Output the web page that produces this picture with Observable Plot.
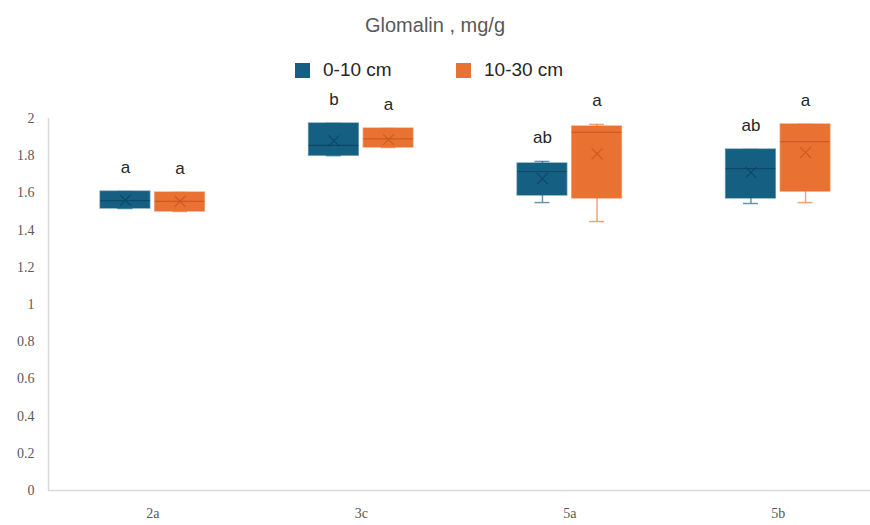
<!DOCTYPE html>
<html>
<head>
<meta charset="utf-8">
<script src="https://cdn.jsdelivr.net/npm/d3@7"></script>
<script src="https://cdn.jsdelivr.net/npm/@observablehq/plot@0.6"></script>
<style>
  html, body { margin: 0; padding: 0; background: #fff; width: 870px; height: 525px; overflow: hidden; }
  #wrap { position: relative; width: 870px; height: 525px; font-family: "Liberation Sans", Arial, sans-serif; }
  #title { position: absolute; left: 0; width: 870px; top: 14px; text-align: center; font-size: 20px; color: #595959; }
  #legend { position: absolute; top: 59px; left: 0; width: 870px; font-size: 19px; color: #262626; z-index: 2; }
  .item { position: absolute; display: flex; align-items: center; }
  .sw { width: 15px; height: 15px; margin-right: 13px; }
  #chart { position: absolute; left: 0; top: 80px; }
</style>
</head>
<body>
<div id="wrap">
  <div id="title">Glomalin , mg/g</div>
  <div id="chart"></div>
  <div id="legend"></div>
</div>
<script>
const categories = ["2a", "3c", "5a", "5b"];
const series = ["0-10 cm", "10-30 cm"];
const colors = ["#156082", "#E97132"];
const darkColors = ["#0d4460", "#c4581f"];

// 0-10 cm
const min0    = [1.516, 1.800, 1.548, 1.543];
const q1_0    = [1.516, 1.800, 1.586, 1.570];
const median0 = [1.559, 1.855, 1.715, 1.731];
const q3_0    = [1.607, 1.973, 1.758, 1.833];
const max0    = [1.607, 1.973, 1.769, 1.833];
const mean0   = [1.560, 1.880, 1.677, 1.710];
const letters0 = ["a", "b", "ab", "ab"];

// 10-30 cm
const min1    = [1.500, 1.844, 1.446, 1.548];
const q1_1    = [1.500, 1.844, 1.570, 1.607];
const median1 = [1.554, 1.890, 1.925, 1.876];
const q3_1    = [1.602, 1.946, 1.957, 1.968];
const max1    = [1.602, 1.946, 1.968, 1.968];
const mean1   = [1.554, 1.887, 1.810, 1.817];
const letters1 = ["a", "a", "a", "a"];

const yTicks = [0, 0.2, 0.4, 0.6, 0.8, 1, 1.2, 1.4, 1.6, 1.8, 2];

const rows = [];
categories.forEach((c, i) => {
  rows.push({cat: c, i, s: 0, series: series[0], min: min0[i], q1: q1_0[i], med: median0[i], q3: q3_0[i], max: max0[i], mean: mean0[i], letter: letters0[i]});
  rows.push({cat: c, i, s: 1, series: series[1], min: min1[i], q1: q1_1[i], med: median1[i], q3: q3_1[i], max: max1[i], mean: mean1[i], letter: letters1[i]});
});

const left = d => d.i + (d.s ? 0.012 : -0.25);
const right = d => d.i + (d.s ? 0.25 : -0.012);
const mid = d => d.i + (d.s ? 0.131 : -0.131);
const capL = d => mid(d) - 0.036;
const capR = d => mid(d) + 0.036;
const col = d => colors[d.s];
const dcol = d => darkColors[d.s];

// legend
const leg = document.getElementById("legend");
const legX = [295, 456];
series.forEach((s, k) => {
  const it = document.createElement("div");
  it.className = "item";
  it.style.left = legX[k] + "px";
  it.innerHTML = `<div class="sw" style="background:${colors[k]}"></div><span>${s}</span>`;
  leg.appendChild(it);
});

const chart = Plot.plot({
  width: 870,
  height: 445,
  marginLeft: 48,
  marginRight: 0,
  marginTop: 38,
  marginBottom: 35,
  x: {type: "linear", domain: [-0.5, 3.5], range: [48, 882]},
  y: {domain: [0, 2]},
  style: {background: "transparent", overflow: "visible"},
  marks: [
    Plot.axisY({ticks: yTicks, tickSize: 0, tickPadding: 14, tickFormat: d => String(+d.toFixed(1)),
      fontFamily: "Liberation Serif", fontSize: 14, fill: "#595959", label: null}),
    Plot.axisX({ticks: [0, 1, 2, 3], tickSize: 0, tickPadding: 18, tickFormat: i => categories[i],
      fontFamily: "Liberation Serif", fontSize: 14, fill: "#595959", label: null}),
    Plot.ruleY([0], {stroke: "#d9d9d9", strokeWidth: 1.5}),
    Plot.ruleX([-0.5], {y1: 0, y2: 2, stroke: "#d9d9d9", strokeWidth: 1.5}),
    // whiskers
    Plot.ruleX(rows, {x: mid, y1: "min", y2: "q1", stroke: col, strokeOpacity: 0.65, strokeWidth: 1.5}),
    Plot.ruleX(rows, {x: mid, y1: "q3", y2: "max", stroke: col, strokeOpacity: 0.65, strokeWidth: 1.5}),
    Plot.ruleY(rows, {y: "min", x1: capL, x2: capR, stroke: col, strokeOpacity: 0.65, strokeWidth: 1.5}),
    Plot.ruleY(rows, {y: "max", x1: capL, x2: capR, stroke: col, strokeOpacity: 0.65, strokeWidth: 1.5}),
    // boxes
    Plot.rect(rows, {x1: left, x2: right, y1: "q1", y2: "q3", fill: col, stroke: col, strokeOpacity: 0.55, strokeWidth: 1.5}),
    // median
    Plot.ruleY(rows, {y: "med", x1: left, x2: right, stroke: dcol, strokeWidth: 1.2, strokeOpacity: 0.8}),
    // mean
    Plot.dot(rows, {x: mid, y: "mean", symbol: "times", r: 5, stroke: dcol, strokeWidth: 1.2, strokeOpacity: 0.8}),
    // letters
    Plot.text(rows, {x: mid, y: "max", text: "letter", dy: -24, fontFamily: "Liberation Sans", fontSize: 17, fill: "#262626"})
  ]
});
document.getElementById("chart").appendChild(chart);
</script>
</body>
</html>
